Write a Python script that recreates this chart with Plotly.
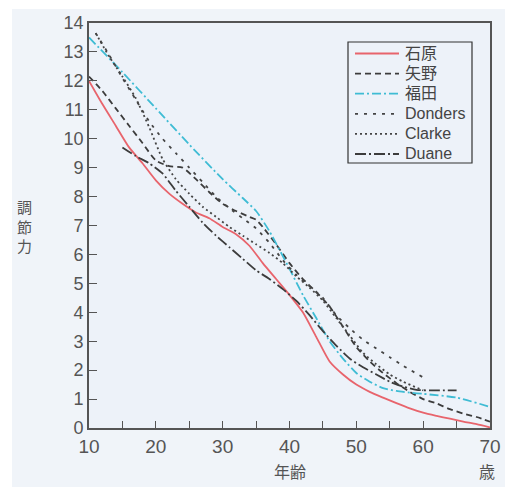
import plotly.graph_objects as go

# ---- data ----
ishihara_age = [10, 12, 14, 16, 18, 20, 22, 24, 26, 28, 30, 32, 34, 36, 38, 40, 42, 44, 46, 48, 50, 52, 54, 56, 58, 60, 62, 64, 66, 68, 70]
ishihara_val = [12.0, 11.2, 10.45, 9.7, 9.15, 8.56, 8.1, 7.75, 7.45, 7.25, 6.95, 6.7, 6.3, 5.7, 5.15, 4.6, 4.0, 3.15, 2.3, 1.85, 1.5, 1.25, 1.05, 0.86, 0.68, 0.53, 0.42, 0.32, 0.22, 0.13, 0.02]

yano_age = [10, 12, 14, 16, 18, 20, 22, 24, 26, 28, 30, 32, 34, 35, 36, 38, 40, 42, 44, 46, 48, 50, 52, 54, 56, 58, 60, 62, 64, 66, 68, 70]
yano_val = [12.15, 11.65, 11.05, 10.45, 9.85, 9.25, 9.05, 9.0, 8.6, 8.15, 7.75, 7.5, 7.3, 7.2, 6.95, 6.35, 5.7, 5.15, 4.7, 4.2, 3.5, 2.8, 2.3, 1.9, 1.55, 1.25, 1.0, 0.85, 0.65, 0.5, 0.38, 0.22]

fukuda_age = [10, 15, 20, 25, 30, 33, 35, 37, 40, 42, 44, 46, 48, 50, 52, 54, 56, 58, 60, 65, 70]
fukuda_val = [13.5, 12.3, 11.05, 9.8, 8.6, 7.95, 7.5, 6.8, 5.5, 4.6, 3.8, 3.0, 2.4, 1.9, 1.6, 1.38, 1.28, 1.22, 1.18, 1.05, 0.73]

donders_age = [11, 13, 15, 17, 19, 21, 23, 25, 27, 29, 31, 33, 35, 37, 39, 41, 43, 45, 47, 49, 51, 53, 55, 57, 60]
donders_val = [13.65, 12.9, 12.1, 11.35, 10.6, 10.0, 9.5, 9.0, 8.5, 8.0, 7.6, 7.25, 6.9, 6.4, 5.8, 5.3, 4.9, 4.5, 3.9, 3.45, 3.05, 2.75, 2.45, 2.15, 1.75]

clarke_age = [11, 13, 15, 17, 19, 21, 23, 25, 27, 29, 31, 33, 35, 37, 39, 41, 43, 45, 47, 49, 51, 53, 55, 57, 60]
clarke_val = [13.65, 12.85, 12.15, 11.4, 10.4, 9.3, 8.6, 8.1, 7.65, 7.3, 6.95, 6.65, 6.35, 6.05, 5.7, 5.25, 4.85, 4.4, 3.8, 3.2, 2.6, 2.2, 1.85, 1.6, 1.3]

duane_age = [15, 17, 19, 21, 23, 25, 27, 29, 31, 33, 35, 37, 39, 41, 43, 45, 47, 49, 51, 53, 55, 57, 59, 61, 63, 65]
duane_val = [9.7, 9.4, 9.15, 8.8, 8.2, 7.65, 7.1, 6.65, 6.25, 5.85, 5.45, 5.15, 4.8, 4.4, 3.9, 3.35, 2.85, 2.4, 2.1, 1.85, 1.6, 1.43, 1.32, 1.3, 1.3, 1.3]

x_tickvals = [10, 15, 20, 25, 30, 35, 40, 45, 50, 55, 60, 65, 70]
x_ticktext = ["10", "", "20", "", "30", "", "40", "", "50", "", "60", "", "70"]
y_tickvals = list(range(0, 15))

series = [
    ("石原", ishihara_age, ishihara_val, "#e8646c", "solid"),
    ("矢野", yano_age, yano_val, "#3c3c3c", "6px,4px"),
    ("福田", fukuda_age, fukuda_val, "#3fbcd4", "9px,3px,2px,3px"),
    ("Donders", donders_age, donders_val, "#444444", "3px,6px"),
    ("Clarke", clarke_age, clarke_val, "#444444", "2px,3px"),
    ("Duane", duane_age, duane_val, "#3c3c3c", "11px,3px,2px,3px"),
]
LW = 1.8

# plot-area geometry in pixels (for paper-coordinate conversions of decorations)
W, H = 505, 487
ML, MR, MT, MB = 89, 15, 23, 59
PW, PH = W - ML - MR, H - MT - MB


def px(xpix):
    return (xpix - ML) / PW


def py(ypix):
    return (H - MB - ypix) / PH


fig = go.Figure()
for name, xs, ys, col, dash in series:
    fig.add_trace(go.Scatter(
        x=xs, y=ys, name=name, mode="lines", showlegend=False,
        line=dict(color=col, dash=dash, width=LW, shape="spline", smoothing=0.6),
    ))

axis_col = "#555555"
txt_col = "#555555"
cjk = "Noto Sans CJK JP"

shapes = [
    dict(type="rect", xref="paper", yref="paper", x0=px(0), x1=px(12), y0=py(H), y1=py(0),
         fillcolor="white", line=dict(width=0), layer="below"),
    dict(type="rect", xref="paper", yref="paper", x0=px(0), x1=px(W), y0=py(9), y1=py(0),
         fillcolor="white", line=dict(width=0), layer="below"),
    # legend frame
    dict(type="rect", xref="paper", yref="paper", x0=px(348), x1=px(472), y0=py(163), y1=py(42),
         fillcolor="rgba(0,0,0,0)", line=dict(color="#333333", width=1.2)),
]
annotations = [
    dict(text="年齢", xref="paper", yref="paper", x=px(290), y=py(471), xanchor="center", yanchor="middle",
         showarrow=False, font=dict(size=16, color=txt_col, family=cjk)),
    dict(text="歳", xref="paper", yref="paper", x=px(487), y=py(471), xanchor="center", yanchor="middle",
         showarrow=False, font=dict(size=16, color=txt_col, family=cjk)),
    dict(text="調<br>節<br>力", xref="paper", yref="paper", x=px(24), y=py(226), xanchor="center",
         yanchor="middle", showarrow=False, font=dict(size=15, color=txt_col, family=cjk)),
]

# legend entries (built from the series list)
for i, (name, xs, ys, col, dash) in enumerate(series):
    yrow = 53.5 + 20.1 * i
    shapes.append(dict(type="line", xref="paper", yref="paper", x0=px(355), x1=px(399), y0=py(yrow), y1=py(yrow),
                       line=dict(color=col, dash=dash, width=LW)))
    annotations.append(dict(text=name, xref="paper", yref="paper", x=px(403), y=py(yrow),
                            xanchor="left", yanchor="middle", showarrow=False,
                            font=dict(size=16, color="#444444", family="Liberation Sans, " + cjk)))

fig.update_layout(
    width=W, height=H,
    margin=dict(l=ML, r=MR, t=MT, b=MB),
    paper_bgcolor="#f0f4f9",
    plot_bgcolor="#edf2f9",
    font=dict(family="Liberation Sans, Arial, sans-serif", color="#444444"),
    showlegend=False,
    xaxis=dict(
        range=[10, 70], tickvals=x_tickvals, ticktext=x_ticktext,
        ticks="inside", ticklen=7, tickwidth=1.3, tickcolor=axis_col,
        showline=True, linecolor=axis_col, linewidth=1.8, mirror=True,
        showgrid=False, zeroline=False, automargin=False,
        tickfont=dict(size=19, color=txt_col),
    ),
    yaxis=dict(
        range=[0, 14], tickvals=y_tickvals,
        ticks="inside", ticklen=8, tickwidth=1.3, tickcolor=axis_col,
        showline=True, linecolor=axis_col, linewidth=1.8, mirror=True,
        showgrid=False, zeroline=False, automargin=False,
        tickfont=dict(size=18, color=txt_col),
    ),
    shapes=shapes,
    annotations=annotations,
)

fig.write_html("out.html")
